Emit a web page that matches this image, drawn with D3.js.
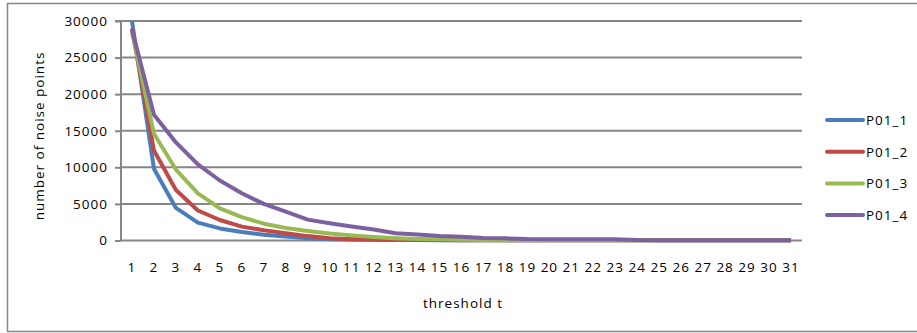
<!DOCTYPE html>
<html>
<head>
<meta charset="utf-8">
<script src="https://cdn.jsdelivr.net/npm/d3@7/dist/d3.min.js"></script>
<style>
  html, body { margin: 0; padding: 0; background: #fff; }
  svg text { font-family: "Open Sans", sans-serif; font-size: 13.5px; fill: #000; letter-spacing: 1px; }
</style>
</head>
<body>
<svg id="chart" width="917" height="333"></svg>
<script>
const categories = d3.range(1, 32).map(String);
const yTicks = [0, 5000, 10000, 15000, 20000, 25000, 30000];
const seriesNames = ["P01_1", "P01_2", "P01_3", "P01_4"];
const seriesColors = ["#4A7EBB", "#BE4B48", "#98B954", "#7D60A0"];
const P01_1 = [30000, 9800, 4450, 2450, 1650, 1150, 780, 550, 300, 180, 120, 90, 70, 60, 50, 40, 40, 30, 30, 30, 30, 30, 30, 20, 20, 20, 20, 20, 20, 20, 20];
const P01_2 = [29000, 12300, 6900, 4100, 2800, 1900, 1400, 1000, 600, 300, 180, 120, 90, 70, 60, 50, 40, 40, 30, 30, 30, 30, 30, 20, 20, 20, 20, 20, 20, 20, 20];
const P01_3 = [28500, 14600, 9700, 6450, 4400, 3200, 2300, 1700, 1300, 950, 700, 480, 320, 220, 160, 110, 70, 50, 40, 40, 30, 30, 30, 20, 20, 20, 20, 20, 20, 20, 20];
const P01_4 = [28800, 17200, 13400, 10400, 8200, 6450, 5000, 3950, 2850, 2350, 1900, 1500, 1000, 820, 620, 500, 350, 300, 200, 170, 160, 180, 160, 60, 50, 40, 40, 40, 40, 40, 30];
const seriesValues = [P01_1, P01_2, P01_3, P01_4];

(function () {
const svg = d3.select("#chart");
const grey = "#868686";

// outer border
svg.append("rect").attr("x", 7.5).attr("y", 3.5).attr("width", 930).attr("height", 328)
  .attr("fill", "none").attr("stroke", grey).attr("stroke-width", 1.5);

const pLeft = 121, pRight = 802, pTop = 21, pBottom = 240.5;
const x = d3.scaleBand().domain(categories).range([pLeft, pRight]).padding(0);
const y = d3.scaleLinear().domain([0, 30000]).range([pBottom, pTop]);
const cx = c => x(c) + x.bandwidth() / 2;

// gridlines
svg.append("g").selectAll("line").data(yTicks.filter(t => t > 0)).join("line")
  .attr("x1", pLeft).attr("x2", pRight).attr("y1", d => y(d)).attr("y2", d => y(d))
  .attr("stroke", grey).attr("stroke-width", 2);

// y axis
const yAxis = svg.append("g").attr("transform", `translate(${pLeft},0)`)
  .call(d3.axisLeft(y).tickValues(yTicks).tickSize(6).tickPadding(7).tickFormat(d3.format("d")));
yAxis.select(".domain").attr("stroke", grey).attr("stroke-width", 2).attr("d", `M-6,${pTop}H0V${pBottom}`);
yAxis.selectAll(".tick line").attr("stroke", grey).attr("stroke-width", 2);
yAxis.selectAll(".tick text").style("font-size", "13.5px");

// x axis
const xAxis = svg.append("g").attr("transform", `translate(0,${pBottom})`)
  .call(d3.axisBottom(x).tickSize(0).tickPadding(22));
xAxis.select(".domain").attr("stroke", grey).attr("stroke-width", 2).attr("d", `M${pLeft},0H${pRight}`);
xAxis.selectAll(".tick text").style("font-size", "13.5px");

// lines
const line = d3.line().x((d, i) => cx(categories[i])).y(d => y(d));
seriesValues.forEach((vals, k) => {
  svg.append("path").datum(vals).attr("d", line)
    .attr("fill", "none").attr("stroke", seriesColors[k]).attr("stroke-width", 4)
    .attr("stroke-linejoin", "round");
});

// axis titles
svg.append("text").attr("x", 463).attr("y", 308).attr("text-anchor", "middle").text("threshold t");
svg.append("text").attr("transform", "translate(44,136) rotate(-90)").attr("text-anchor", "middle").text("number of noise points");

// legend
const lg = svg.append("g");
seriesNames.forEach((n, k) => {
  const ly = 120 + k * 31.7;
  lg.append("line").attr("x1", 827).attr("x2", 863).attr("y1", ly).attr("y2", ly)
    .attr("stroke", seriesColors[k]).attr("stroke-width", 4).attr("stroke-linecap", "round");
  lg.append("text").attr("x", 866).attr("y", ly + 5).text(n);
});
})();
</script>
</body>
</html>
